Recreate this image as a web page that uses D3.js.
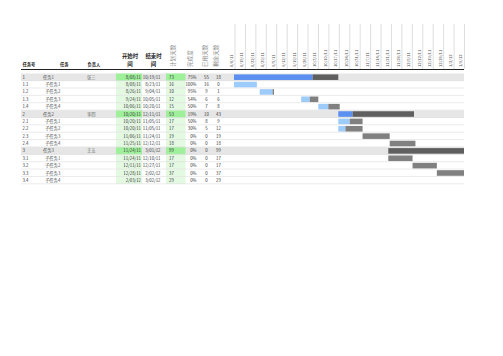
<!DOCTYPE html>
<html>
<head>
<meta charset="utf-8">
<script src="https://cdn.jsdelivr.net/npm/d3@7"></script>
<style>
  body { margin: 0; background: #fff; }
  text { font-family: "Noto Sans CJK SC", "Liberation Sans", sans-serif; }
</style>
</head>
<body>
<div id="chart"></div>
<script>
// task table
const ids       = ["1", "1.1", "1.2", "1.3", "1.4", "2", "2.1", "2.2", "2.3", "2.4", "3", "3.1", "3.2", "3.3", "3.4"];
const names     = ["任务1", "子任务1", "子任务2", "子任务3", "子任务4", "任务2", "子任务1", "子任务2", "子任务3", "子任务4", "任务3", "子任务1", "子任务2", "子任务3", "子任务4"];
const owners    = ["张三", "", "", "", "", "李四", "", "", "", "", "王五", "", "", "", ""];
const starts    = ["8/08/11", "8/08/11", "8/26/11", "9/24/11", "10/06/11", "10/20/11", "10/20/11", "10/20/11", "11/06/11", "11/25/11", "11/24/11", "11/24/11", "12/11/11", "12/28/11", "2/03/12"];
const ends      = ["10/19/11", "8/23/11", "9/04/11", "10/05/11", "10/20/11", "12/11/11", "11/05/11", "11/05/11", "11/24/11", "12/12/11", "3/01/12", "12/10/11", "12/27/11", "2/02/12", "3/02/12"];
const planDays  = [73, 16, 10, 12, 15, 53, 17, 17, 19, 18, 99, 17, 17, 37, 29];
const pctDone   = ["75%", "100%", "95%", "54%", "50%", "19%", "50%", "30%", "0%", "0%", "0%", "0%", "0%", "0%", "0%"];
const usedDays  = [55, 16, 9, 6, 7, 10, 8, 5, 0, 0, 0, 0, 0, 0, 0];
const leftDays  = [18, 0, 1, 6, 8, 43, 9, 12, 19, 18, 99, 17, 17, 37, 29];

// week header labels
const weekLabels = ["8/8/11", "8/15/11", "8/22/11", "8/29/11", "9/5/11", "9/12/11", "9/19/11", "9/26/11",
  "10/3/11", "10/10/11", "10/17/11", "10/24/11", "10/31/11", "11/7/11", "11/14/11", "11/21/11",
  "11/28/11", "12/5/11", "12/12/11", "12/19/11", "12/26/11", "1/2/12", "1/9/12"];
const ganttStart = "8/08/11", ganttEnd = "1/16/12";

const parse = d3.timeParse("%m/%d/%y");
const rows = ids.map((id, i) => ({
  id, name: names[i], owner: owners[i], start: starts[i], end: ends[i],
  plan: planDays[i], pct: pctDone[i], used: usedDays[i], left: leftDays[i],
  summary: !id.includes(".")
}));

const W = 503, H = 356;
const tableLeft = 21, tableRight = 464;

const svg = d3.select("#chart").append("svg")
  .attr("width", W).attr("height", H);

const y = d3.scaleBand().domain(ids).range([73.5, 73.5 + ids.length * 7.37]);
const x = d3.scaleTime().domain([parse(ganttStart), parse(ganttEnd)]).range([234, tableRight]);
const hx = d3.scalePoint().domain(weekLabels).range([231.5, 461]);

svg.append("clipPath").attr("id", "gclip")
  .append("rect").attr("x", 234).attr("y", 0).attr("width", tableRight - 234).attr("height", H);

// row backgrounds
svg.append("g").selectAll("rect").data(rows.filter(d => d.summary)).join("rect")
  .attr("x", tableLeft).attr("width", tableRight - tableLeft)
  .attr("y", d => y(d.id)).attr("height", y.bandwidth())
  .attr("fill", "#e6e6e6");

// green columns
const greenCols = [[116, 142], [166, 185.5]];
greenCols.forEach(([a, b]) => {
  svg.append("g").selectAll("rect").data(rows).join("rect")
    .attr("x", a).attr("width", b - a)
    .attr("y", d => y(d.id)).attr("height", y.bandwidth())
    .attr("fill", d => d.summary ? "#9ef09a" : "#e4f9e2");
});

// row separators
svg.append("g").selectAll("line").data(rows).join("line")
  .attr("x1", tableLeft).attr("x2", tableRight)
  .attr("y1", d => y(d.id) + y.bandwidth() - 0.25).attr("y2", d => y(d.id) + y.bandwidth() - 0.25)
  .attr("stroke", "#dcdcdc").attr("stroke-width", 0.6);

// header
const hdr = svg.append("g");
hdr.selectAll("line.wk").data(weekLabels).join("line")
  .attr("class", "wk")
  .attr("x1", d => hx(d) + 3.5).attr("x2", d => hx(d) + 3.5)
  .attr("y1", 24).attr("y2", 69)
  .attr("stroke", "#c8c8c8").attr("stroke-width", 0.6);
hdr.selectAll("text.wk").data(weekLabels).join("text")
  .attr("class", "wk")
  .attr("transform", d => `translate(${hx(d)},67) rotate(-90)`)
  .attr("dy", "0.35em")
  .attr("font-size", 4.2).attr("fill", "#555")
  .text(d => d);

const plainHead = [
  {t: "任务号", x: 22.5, a: "start"},
  {t: "任务", x: 60, a: "start"},
  {t: "负责人", x: 87.5, a: "start"}
];
hdr.selectAll("text.ph").data(plainHead).join("text")
  .attr("class", "ph")
  .attr("x", d => d.x).attr("y", 66)
  .attr("text-anchor", d => d.a)
  .attr("font-size", 4.3).attr("font-weight", "bold").attr("fill", "#222")
  .text(d => d.t);

const wrapHead = [
  {l1: "开始时", l2: "间", x: 130},
  {l1: "结束时", l2: "间", x: 153.5}
];
wrapHead.forEach(h => {
  hdr.append("text").attr("x", h.x).attr("y", 58).attr("text-anchor", "middle")
    .attr("font-size", 5.4).attr("font-weight", "bold").attr("fill", "#222").text(h.l1);
  hdr.append("text").attr("x", h.x).attr("y", 66).attr("text-anchor", "middle")
    .attr("font-size", 5.4).attr("font-weight", "bold").attr("fill", "#222").text(h.l2);
});

const vertHead = [
  {t: "计划天数", x: 173.5},
  {t: "完成度", x: 190},
  {t: "已用天数", x: 205.5},
  {t: "剩余天数", x: 216.5}
];
hdr.selectAll("text.vh").data(vertHead).join("text")
  .attr("class", "vh")
  .attr("transform", d => `translate(${d.x},67) rotate(-90)`)
  .attr("dy", "0.35em")
  .attr("font-size", 5.6).attr("fill", "#8a8a8a")
  .text(d => d.t);

hdr.append("line")
  .attr("x1", tableLeft).attr("x2", tableRight)
  .attr("y1", 69.5).attr("y2", 69.5)
  .attr("stroke", "#222").attr("stroke-width", 1);

// cell texts
const cols = [
  {f: d => d.id, x: () => 22.5, a: "start", c: "#333"},
  {f: d => d.name, x: d => d.summary ? 43 : 45, a: "start", c: "#555"},
  {f: d => d.owner, x: () => 87, a: "start", c: "#666"},
  {f: d => d.start, x: () => 141, a: "end", c: "#333"},
  {f: d => d.end, x: () => 160.5, a: "end", c: "#333"},
  {f: d => d.plan, x: () => 171.5, a: "middle", c: "#333"},
  {f: d => d.pct, x: () => 196.5, a: "end", c: "#333"},
  {f: d => d.used, x: () => 206.5, a: "middle", c: "#333"},
  {f: d => d.left, x: () => 218.5, a: "middle", c: "#333"}
];
const cells = svg.append("g");
cols.forEach(col => {
  cells.append("g").selectAll("text").data(rows).join("text")
    .attr("x", col.x)
    .attr("y", d => y(d.id) + y.bandwidth() / 2)
    .attr("dy", "0.35em")
    .attr("text-anchor", col.a)
    .attr("font-size", 4.3).attr("fill", col.c)
    .text(col.f);
});

// gantt bars
const bars = svg.append("g").attr("clip-path", "url(#gclip)");
const day = d3.timeDay;
bars.selectAll("rect.done").data(rows.filter(d => d.used > 0)).join("rect")
  .attr("class", "done")
  .attr("x", d => x(parse(d.start)))
  .attr("width", d => x(day.offset(parse(d.start), d.used)) - x(parse(d.start)))
  .attr("y", d => y(d.id) + 0.9).attr("height", y.bandwidth() - 1.8)
  .attr("fill", d => d.summary ? "#5b8ff0" : "#9dcbfa");
bars.selectAll("rect.todo").data(rows.filter(d => d.left > 0)).join("rect")
  .attr("class", "todo")
  .attr("x", d => x(day.offset(parse(d.start), d.used)))
  .attr("width", d => x(day.offset(parse(d.end), 1)) - x(day.offset(parse(d.start), d.used)))
  .attr("y", d => y(d.id) + 0.9).attr("height", y.bandwidth() - 1.8)
  .attr("fill", d => d.summary ? "#5f5f5f" : "#808080");
</script>
</body>
</html>
